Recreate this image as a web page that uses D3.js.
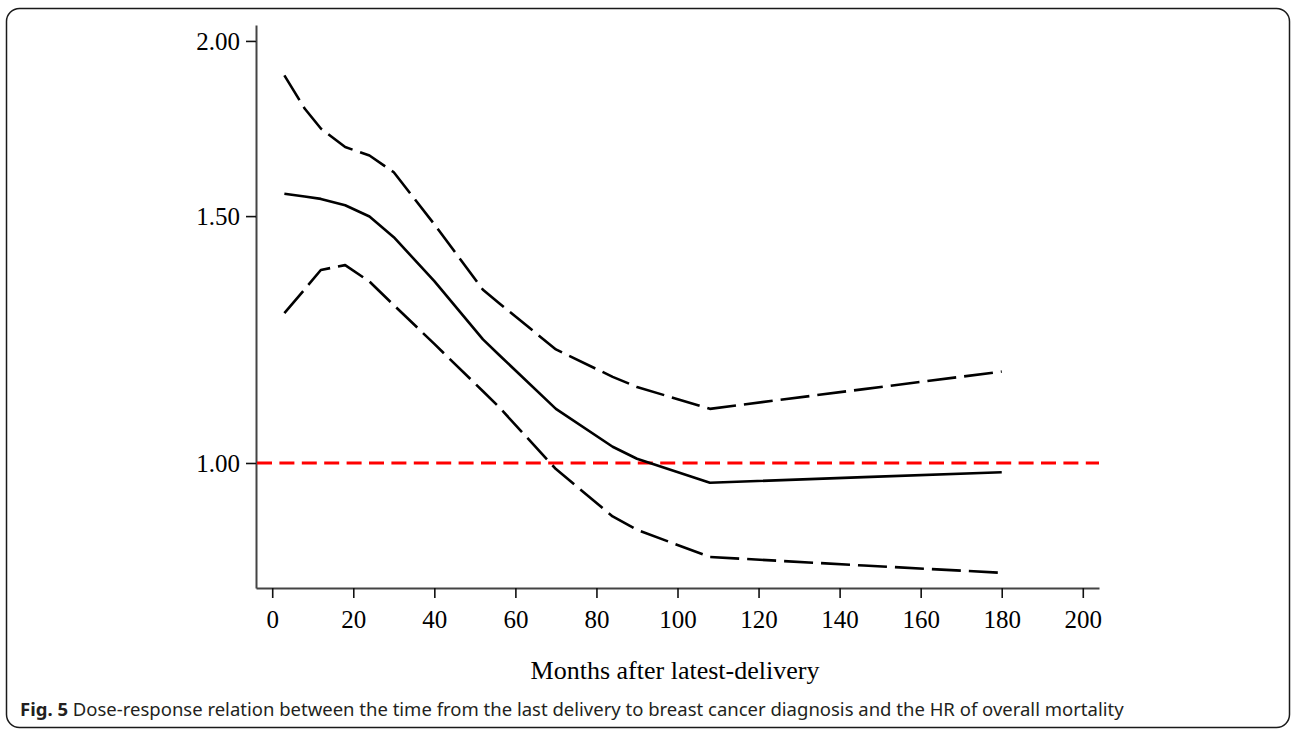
<!DOCTYPE html>
<html>
<head>
<meta charset="utf-8">
<script src="https://cdn.jsdelivr.net/npm/d3@7"></script>
<style>
  html, body { margin: 0; padding: 0; background: #fff; }
  svg { display: block; }
</style>
</head>
<body>
<svg id="chart" width="1292" height="730"></svg>
<script>
// ---- data ----
const months = [3, 8, 12, 18, 24, 30, 40, 52, 56, 70, 84, 90, 108, 146, 180];
const hrEstimate = [1.556, 1.549, 1.543, 1.527, 1.499, 1.449, 1.348, 1.225, 1.194, 1.093, 1.027, 1.007, 0.968, 0.977, 0.985];
const hrUpper    = [1.890, 1.790, 1.732, 1.680, 1.657, 1.612, 1.480, 1.329, 1.300, 1.205, 1.152, 1.133, 1.093, 1.129, 1.162];
const hrLower    = [1.279, 1.330, 1.373, 1.384, 1.347, 1.296, 1.216, 1.125, 1.096, 0.990, 0.916, 0.896, 0.857, 0.845, 0.835];
const xTicks = [0, 20, 40, 60, 80, 100, 120, 140, 160, 180, 200];
const yTicks = [1.00, 1.50, 2.00];
const referenceHR = 1.0;
const xTitle = "Months after latest-delivery";
const captionBold = "Fig. 5";
const captionText = " Dose-response relation between the time from the last delivery to breast cancer diagnosis and the HR of overall mortality";

// ---- layout ----
const svg = d3.select("#chart");
const plot = { left: 256, right: 1099, top: 25, bottom: 588 };

const x = d3.scaleLinear().domain([-4, 204]).range([plot.left, plot.right]);
const y = d3.scaleLog().domain([0.8144, 2.053]).range([plot.bottom, plot.top]);

// frame
svg.append("rect")
  .attr("x", 6.5).attr("y", 8.5)
  .attr("width", 1283).attr("height", 719)
  .attr("rx", 13).attr("ry", 13)
  .attr("fill", "none").attr("stroke", "#1a1a1a").attr("stroke-width", 1.5);

// axes
const xAxis = d3.axisBottom(x).tickValues(xTicks).tickSize(10).tickSizeOuter(0).tickPadding(6)
  .tickFormat(d3.format("d"));
const yAxis = d3.axisLeft(y).tickValues(yTicks).tickSize(10).tickSizeOuter(0).tickPadding(6)
  .tickFormat(d3.format(".2f"));

const gx = svg.append("g").attr("transform", `translate(0,${plot.bottom})`).call(xAxis);
const gy = svg.append("g").attr("transform", `translate(${plot.left},0)`).call(yAxis);

[gx, gy].forEach(g => {
  g.select(".domain").attr("stroke", "#444").attr("stroke-width", 2);
  g.selectAll(".tick line").attr("stroke", "#111").attr("stroke-width", 1.6);
  g.selectAll(".tick text")
    .attr("fill", "#000")
    .style("font-family", "'Liberation Serif', 'Times New Roman', serif")
    .style("font-size", "25px");
});
gx.selectAll(".tick text").attr("dy", "0.95em");
gy.selectAll(".tick text").attr("dy", "0.34em");

// reference line
svg.append("line")
  .attr("x1", plot.left + 1).attr("x2", plot.right)
  .attr("y1", y(referenceHR)).attr("y2", y(referenceHR))
  .attr("stroke", "#ff0000").attr("stroke-width", 3)
  .attr("stroke-dasharray", "15 7.4");

// curves
const line = d3.line().x(d => x(d[0])).y(d => y(d[1]));
const series = [
  { values: hrUpper, dash: "29 8" },
  { values: hrLower, dash: "29 8" },
  { values: hrEstimate, dash: null }
];
series.forEach(s => {
  svg.append("path")
    .datum(months.map((m, i) => [m, s.values[i]]))
    .attr("d", line)
    .attr("fill", "none")
    .attr("stroke", "#000")
    .attr("stroke-width", 2.6)
    .attr("stroke-linejoin", "round")
    .attr("stroke-dasharray", s.dash);
});

// x title
svg.append("text")
  .attr("x", 675).attr("y", 679)
  .attr("text-anchor", "middle")
  .style("font-family", "'Liberation Serif', 'Times New Roman', serif")
  .style("font-size", "26px")
  .attr("fill", "#000")
  .text(xTitle);

// caption
const cap = svg.append("text")
  .attr("x", 20).attr("y", 716)
  .style("font-family", "'Noto Sans', 'Open Sans', sans-serif")
  .style("font-size", "18.5px")
  .attr("fill", "#231f20");
cap.append("tspan").style("font-weight", "bold").text(captionBold);
cap.append("tspan").text(captionText);
</script>
</body>
</html>
